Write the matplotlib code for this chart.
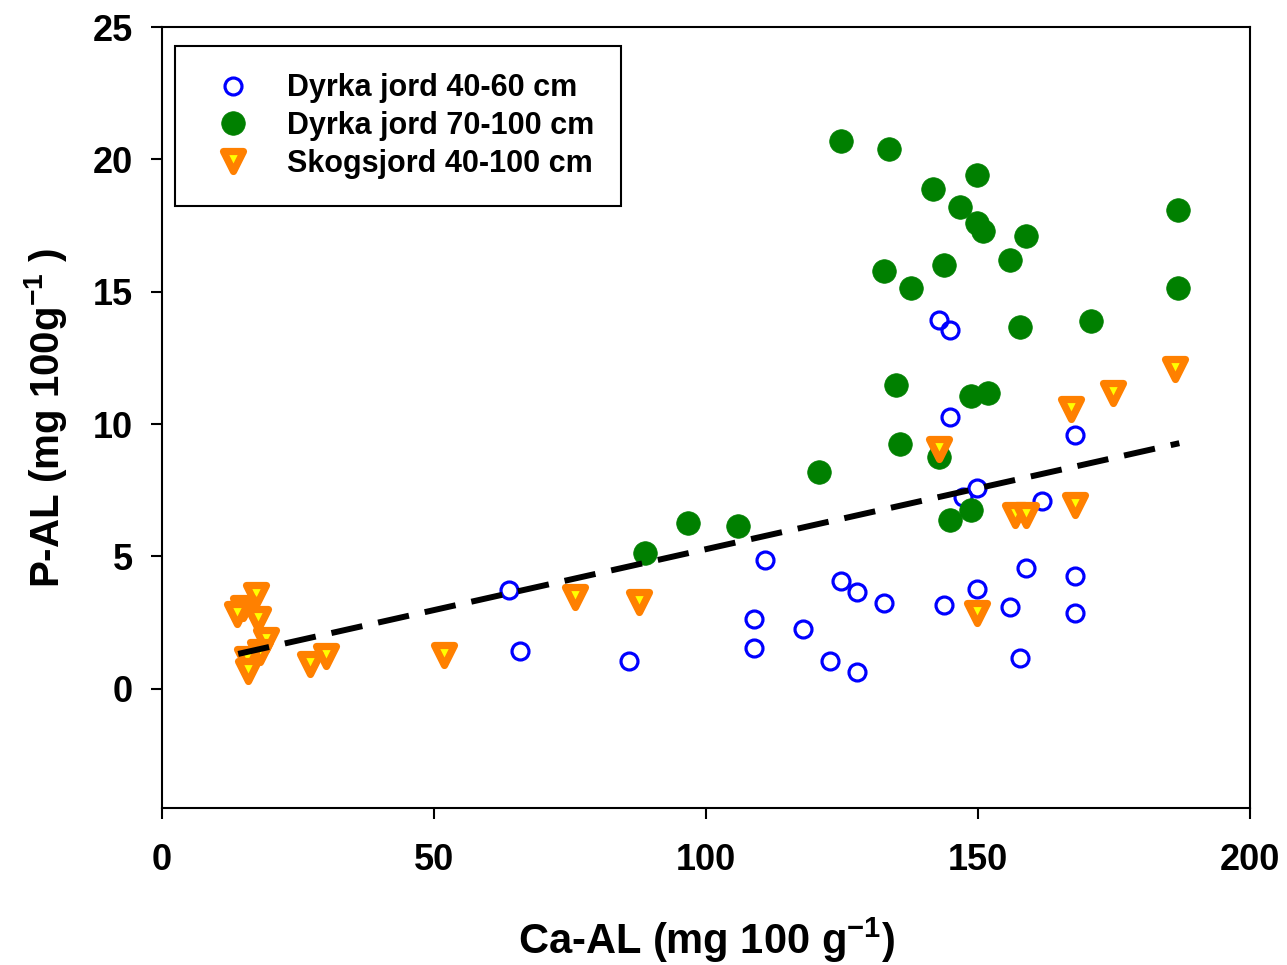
import numpy as np
import matplotlib
matplotlib.use("Agg")
import matplotlib.pyplot as plt
from matplotlib.markers import MarkerStyle

# Data ----------------------------------------------------------------
# Dyrka jord 40-60 cm
ca_4060 = [63.8, 65.8, 85.8, 110.8, 108.8, 108.8, 117.8, 122.8, 124.8, 127.8,
           127.8, 132.7, 143.8, 149.8, 155.9, 157.7, 158.8, 167.8, 167.8, 161.8,
           149.8, 147.2, 144.9, 167.8, 142.8, 144.9]
p_4060 = [3.73, 1.43, 1.06, 4.86, 2.64, 1.55, 2.26, 1.06, 4.07, 3.66,
          0.64, 3.24, 3.17, 3.77, 3.09, 1.17, 4.56, 4.26, 2.87, 7.09,
          7.58, 7.24, 10.26, 9.58, 13.95, 13.57]

# Dyrka jord 70-100 cm
ca_70100 = [88.8, 96.7, 105.9, 120.8, 124.8, 133.6, 132.7, 137.7, 135.0, 135.7,
            141.7, 143.8, 146.7, 149.8, 149.8, 150.9, 155.9, 158.8, 157.7, 170.8,
            148.7, 151.8, 186.8, 186.8, 142.8, 144.9, 148.7]
p_70100 = [5.13, 6.26, 6.15, 8.18, 20.7, 20.4, 15.8, 15.16, 11.46, 9.24,
           18.9, 16.0, 18.2, 19.4, 17.6, 17.3, 16.2, 17.1, 13.65, 13.88,
           11.05, 11.16, 18.1, 15.16, 8.75, 6.37, 6.75]

# Skogsjord 40-100 cm
ca_skog = [186.2, 174.8, 167.0, 167.8, 142.8, 156.8, 158.8, 149.8, 87.7, 75.9,
           51.8, 30.1, 27.2, 17.3, 14.9, 13.8, 17.6, 19.1, 18.0, 15.6, 15.8]
p_skog = [12.07, 11.16, 10.56, 6.94, 9.05, 6.56, 6.56, 2.87, 3.28, 3.47,
          1.28, 1.24, 0.94, 3.54, 3.05, 2.83, 2.64, 1.85, 1.40, 1.13, 0.68]

# trendlinje (endepunkter lest av figuren)
trend_x = [14, 187]
trend_y = [1.32, 9.28]

xticks = [0, 50, 100, 150, 200]
yticks = [0, 5, 10, 15, 20, 25]

# Figur ----------------------------------------------------------------
plt.rcParams['font.family'] = ['Liberation Sans', 'DejaVu Sans']
plt.rcParams['font.weight'] = 'bold'
plt.rcParams['mathtext.fontset'] = 'custom'
plt.rcParams['mathtext.rm'] = 'Liberation Sans:bold'
plt.rcParams['mathtext.it'] = 'Liberation Sans:bold'
plt.rcParams['mathtext.bf'] = 'Liberation Sans:bold'

fig = plt.figure(figsize=(12.87, 9.65), dpi=100)
ax = fig.add_axes([0.1259, 0.1627, 0.8454, 0.8093])

tri = MarkerStyle('v', joinstyle='round')

ax.plot(ca_4060, p_4060, 'o', ls='none', ms=12.2, mfc='none', mec='#0000ff', mew=2.3,
        label='Dyrka jord 40-60 cm', zorder=3)
ax.plot(ca_70100, p_70100, 'o', ls='none', ms=17, mfc='#008000', mec='#008000', mew=0.5,
        label='Dyrka jord 70-100 cm', zorder=4)
ax.plot(ca_skog, p_skog, marker=tri, ls='none', ms=14, mfc='#ffff00', mec='#ff8000', mew=5.2,
        label='Skogsjord 40-100 cm', zorder=5)
ax.plot(trend_x, trend_y, color='black', lw=4.3, ls=(0, (5.3, 2.7)),
        solid_capstyle='butt', dash_capstyle='butt', zorder=6)

ax.set_xlim(0, 200)
ax.set_ylim(-4.5, 25)
ax.set_xticks(xticks)
ax.set_yticks(yticks)

for s in ax.spines.values():
    s.set_linewidth(1.5)

ax.tick_params(axis='both', direction='out', length=8, width=1.5, labelsize=26,
               top=False, right=False)
ax.tick_params(axis='x', pad=17)
ax.tick_params(axis='y', pad=13)

ax.set_xlabel(r'Ca-AL (mg 100 g$^{-1}$)', fontsize=30, fontweight='bold', labelpad=27)
ax.set_ylabel(r'P-AL (mg 100g$^{-1}$ )', fontsize=29, fontweight='bold', labelpad=17)

leg = ax.legend(loc='upper left', bbox_to_anchor=(0.012, 0.976), fontsize=22,
                frameon=True, fancybox=False, edgecolor='black', framealpha=1,
                borderpad=0.9, labelspacing=0.25, handletextpad=0.75, handlelength=2.0,
                borderaxespad=0)
leg.get_frame().set_linewidth(1.5)

fig.savefig('out.png', dpi=100)
